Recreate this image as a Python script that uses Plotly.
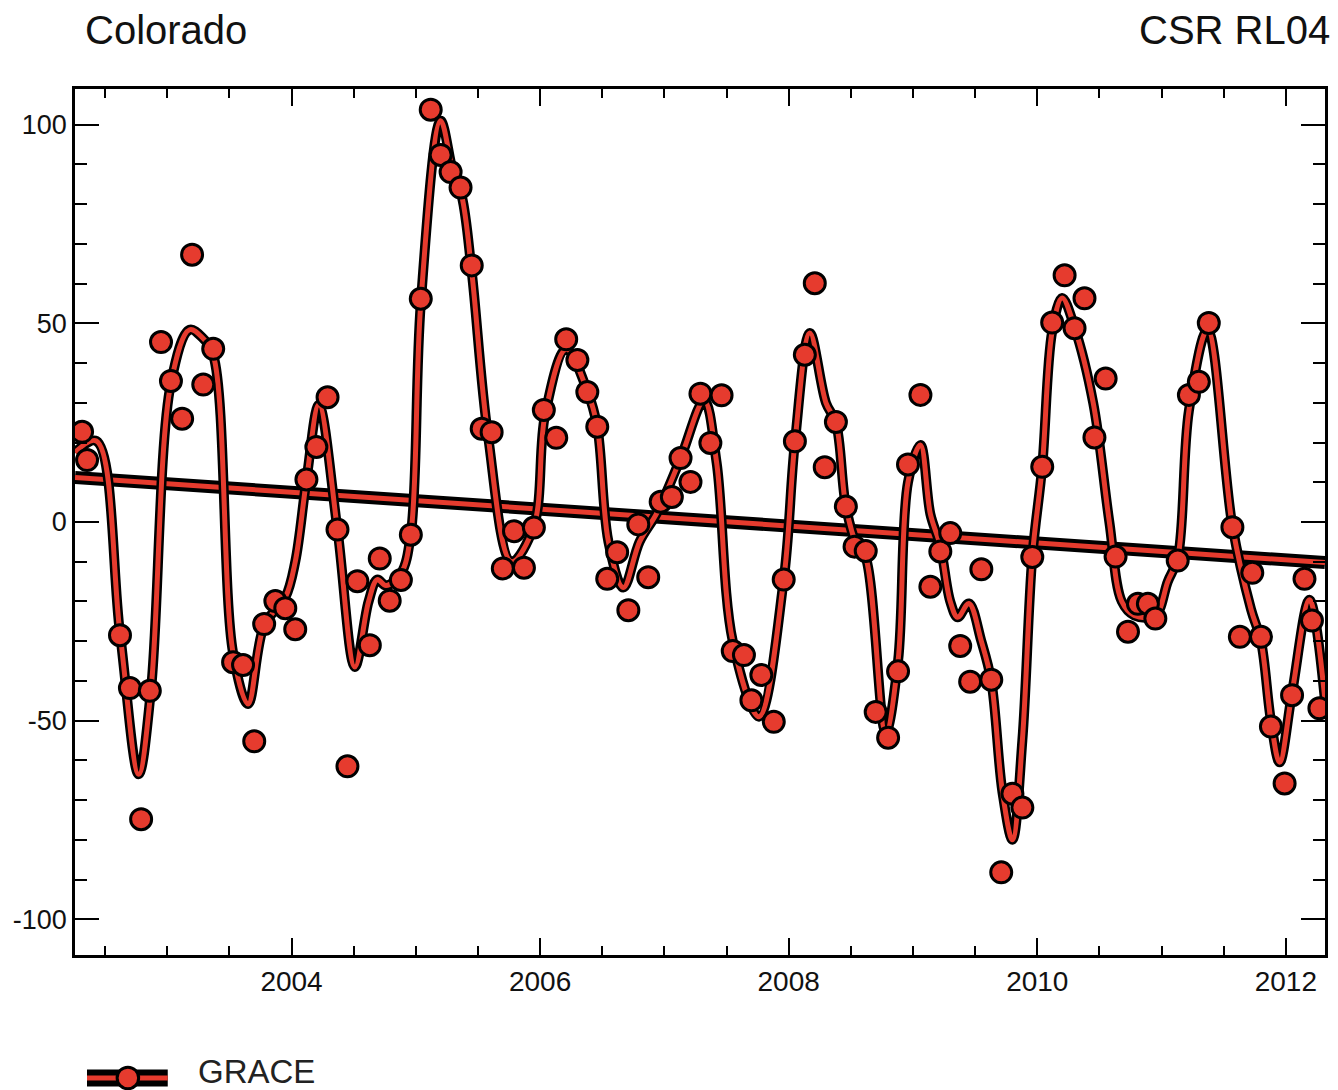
import plotly.graph_objects as go

# GRACE monthly water storage anomalies (decimal year, equivalent water height)
grace_year = [
    2002.315, 2002.355, 2002.62, 2002.70, 2002.79, 2002.86, 2002.95, 2003.03,
    2003.12, 2003.20, 2003.29, 2003.37, 2003.53, 2003.61, 2003.70, 2003.78,
    2003.87, 2003.95, 2004.03, 2004.12, 2004.20, 2004.29, 2004.37, 2004.45,
    2004.53, 2004.63, 2004.71, 2004.79, 2004.88, 2004.96, 2005.04, 2005.12,
    2005.20, 2005.28, 2005.36, 2005.45, 2005.53, 2005.61, 2005.70, 2005.79,
    2005.87, 2005.95, 2006.03, 2006.13, 2006.21, 2006.30, 2006.38, 2006.46,
    2006.54, 2006.62, 2006.71, 2006.79, 2006.87, 2006.97, 2007.06, 2007.13,
    2007.21, 2007.29, 2007.37, 2007.46, 2007.55, 2007.64, 2007.70, 2007.78,
    2007.88, 2007.96, 2008.05, 2008.13, 2008.21, 2008.29, 2008.38, 2008.46,
    2008.53, 2008.62, 2008.70, 2008.80, 2008.88, 2008.96, 2009.06, 2009.14,
    2009.22, 2009.30, 2009.38, 2009.46, 2009.55, 2009.63, 2009.71, 2009.80,
    2009.88, 2009.96, 2010.04, 2010.12, 2010.22, 2010.30, 2010.38, 2010.46,
    2010.55, 2010.63, 2010.73, 2010.81, 2010.89, 2010.95, 2011.13, 2011.22,
    2011.30, 2011.38, 2011.57, 2011.63, 2011.73, 2011.80, 2011.88, 2011.99,
    2012.05, 2012.15, 2012.21, 2012.27,
]
grace_ewh = [
    22.7, 15.6, -28.5, -41.8, -74.8, -42.5, 45.3, 35.5,
    26.0, 67.3, 34.6, 43.6, -35.3, -36.0, -55.2, -25.7,
    -19.9, -21.7, -27.0, 10.7, 18.9, 31.4, -1.9, -61.5,
    -14.9, -31.0, -9.2, -19.8, -14.6, -3.2, 56.2, 103.8,
    92.4, 88.1, 84.2, 64.6, 23.5, 22.6, -11.7, -2.3,
    -11.5, -1.4, 28.2, 21.2, 46.0, 40.8, 32.7, 24.0,
    -14.3, -7.6, -22.2, -0.6, -13.9, 5.1, 6.3, 16.1,
    10.1, 32.3, 19.9, 31.9, -32.5, -33.5, -44.9, -38.5,
    -50.3, -14.5, 20.3, 42.1, 60.1, 13.8, 25.2, 3.9,
    -6.2, -7.3, -47.8, -54.3, -37.6, 14.5, 32.0, -16.3,
    -7.4, -2.8, -31.2, -40.2, -11.9, -39.7, -88.2, -68.4,
    -71.9, -8.8, 13.9, 50.2, 62.1, 48.8, 56.3, 21.3,
    36.1, -8.7, -27.6, -20.6, -20.6, -24.3, -9.7, 32.0,
    35.3, 50.1, -1.3, -28.9, -12.8, -28.9, -51.5, -65.8,
    -43.6, -14.3, -24.8, -46.9,
]

# Smoothed seasonal fit, given at its turning points and key crossings
fit_year = [
    2002.258, 2002.43, 2002.62, 2002.77, 2002.87, 2003.03, 2003.18, 2003.28,
    2003.37, 2003.53, 2003.65, 2003.78, 2003.95, 2004.03, 2004.12, 2004.22,
    2004.37, 2004.51, 2004.62, 2004.69, 2004.76, 2004.88, 2004.96, 2005.04,
    2005.20, 2005.30, 2005.37, 2005.45, 2005.58, 2005.77, 2005.95, 2006.04,
    2006.21, 2006.38, 2006.46, 2006.55, 2006.67, 2006.80, 2006.94, 2007.13,
    2007.32, 2007.42, 2007.55, 2007.76, 2007.96, 2008.05, 2008.17, 2008.30,
    2008.38, 2008.46, 2008.55, 2008.62, 2008.78, 2008.88, 2008.96, 2009.06,
    2009.14, 2009.22, 2009.30, 2009.36, 2009.45, 2009.55, 2009.63, 2009.72,
    2009.80, 2009.88, 2009.96, 2010.04, 2010.12, 2010.20, 2010.30, 2010.45,
    2010.58, 2010.68, 2010.78, 2010.95, 2011.05, 2011.13, 2011.22, 2011.37,
    2011.57, 2011.72, 2011.80, 2011.88, 2011.95, 2012.05, 2012.19, 2012.315,
]
fit_ewh = [
    17.5, 20.4, -28.0, -63.5, -42.0, 35.0, 48.4, 46.5,
    42.0, -33.0, -45.8, -26.0, -19.0, -10.0, 10.5, 29.5,
    -2.0, -36.5, -20.0, -14.5, -16.0, -13.0, -3.0, 55.0,
    101.0, 88.0, 82.0, 63.0, 22.0, -10.0, -1.0, 27.0,
    43.5, 33.0, 24.0, -5.0, -16.5, -5.0, 2.3, 16.0,
    30.5, 15.0, -30.0, -49.0, -14.5, 20.0, 47.6, 30.0,
    25.0, 4.0, -6.0, -9.0, -53.0, -35.0, 10.0, 19.4,
    2.0, -6.0, -20.0, -24.0, -20.5, -30.0, -40.0, -68.0,
    -80.0, -55.0, -8.8, 14.0, 48.0, 56.4, 49.0, 30.0,
    0.0, -20.0, -23.5, -23.5, -15.0, -9.0, 28.0, 48.4,
    -1.0, -22.0, -30.0, -50.0, -60.5, -43.0, -19.6, -45.0,
]

# Linear trend over the record
trend_year = [2002.258, 2012.315]
trend_ewh = [11.2, -10.2]

x_range = [2002.258, 2012.315]
y_range = [-109, 109]
y_ticks = [-100, -50, 0, 50, 100]
y_tick_text = ["-100", "-50", "0", "50", "100"]

RED = "#e63b2e"
FONT = "Liberation Sans, Arial, Helvetica, sans-serif"

fig = go.Figure()

# Trend line: black casing with red core
for width, colour in [(13, "black"), (5, RED)]:
    fig.add_trace(go.Scatter(
        x=trend_year, y=trend_ewh, mode="lines",
        line=dict(color=colour, width=width),
        hoverinfo="skip", showlegend=False,
    ))

# Smoothed curve: black casing with red core
for width, colour in [(10, "black"), (5, RED)]:
    fig.add_trace(go.Scatter(
        x=fit_year, y=fit_ewh, mode="lines",
        line=dict(color=colour, width=width, shape="spline", smoothing=1.0),
        hoverinfo="skip", showlegend=False,
    ))

# Monthly GRACE solutions
fig.add_trace(go.Scatter(
    x=grace_year, y=grace_ewh, mode="markers", name="GRACE",
    marker=dict(size=21, color=RED, line=dict(color="black", width=3)),
    showlegend=False,
))

fig.update_xaxes(
    range=x_range, tickmode="linear", tick0=2004, dtick=2,
    ticks="inside", ticklen=17, tickwidth=2, tickcolor="black",
    minor=dict(tick0=2002, dtick=0.5, ticks="inside", ticklen=9,
               tickwidth=2, tickcolor="black"),
    showline=True, linecolor="black", linewidth=2.5, mirror="allticks",
    showgrid=False, zeroline=False,
    tickfont=dict(family=FONT, size=28, color="#111"),
)
fig.update_yaxes(
    range=y_range, tickmode="array", tickvals=y_ticks, ticktext=y_tick_text,
    ticks="inside", ticklen=24, tickwidth=2, tickcolor="black",
    minor=dict(tick0=0, dtick=10, ticks="inside", ticklen=12,
               tickwidth=2, tickcolor="black"),
    showline=True, linecolor="black", linewidth=2.5, mirror="allticks",
    showgrid=False, zeroline=False,
    tickfont=dict(family=FONT, size=27, color="#111"),
)

# Hand-drawn legend key: cased line with a marker, then the label
lx0, lx1, ly = 0.0096, 0.0742, -0.142
fig.add_shape(type="line", xref="paper", yref="paper", x0=lx0, x1=lx1, y0=ly, y1=ly,
              line=dict(color="black", width=17))
fig.add_shape(type="line", xref="paper", yref="paper", x0=lx0, x1=lx1, y0=ly, y1=ly,
              line=dict(color=RED, width=5))
cx, rx, ry = 0.0423, 0.0086, 0.0125
fig.add_shape(type="circle", xref="paper", yref="paper",
              x0=cx - rx, x1=cx + rx, y0=ly - ry, y1=ly + ry,
              fillcolor=RED, line=dict(color="black", width=3))

annotations = [
    dict(text="Colorado", x=0.0064, y=1.068, xanchor="left", yanchor="middle",
         font=dict(family=FONT, size=40, color="#111")),
    dict(text="CSR RL04", x=1.0056, y=1.068, xanchor="right", yanchor="middle",
         font=dict(family=FONT, size=40, color="#111")),
    dict(text="GRACE", x=0.0968, y=-0.135, xanchor="left", yanchor="middle",
         font=dict(family=FONT, size=33, color="#222")),
]
for a in annotations:
    fig.add_annotation(xref="paper", yref="paper", showarrow=False, **a)

fig.update_layout(
    width=1338, height=1090,
    margin=dict(l=75, r=10, t=89, b=135),
    paper_bgcolor="white", plot_bgcolor="white",
    showlegend=False,
)

fig.write_html("out.html")
